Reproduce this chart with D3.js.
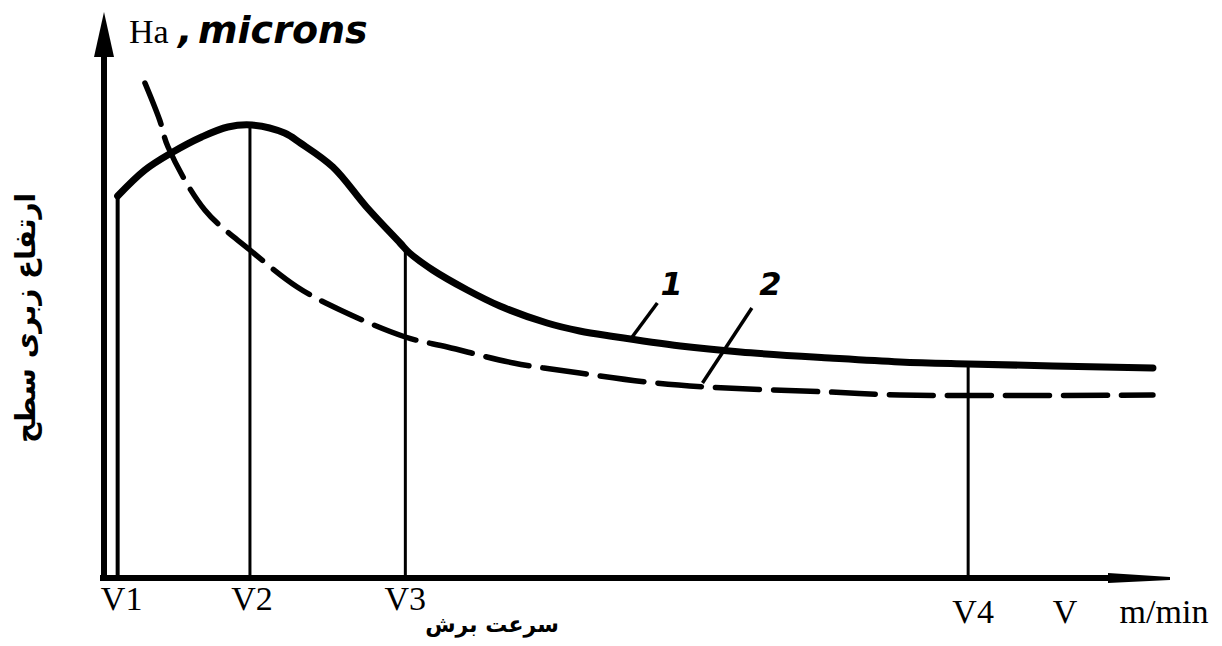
<!DOCTYPE html>
<html><head><meta charset="utf-8">
<script src="https://cdn.jsdelivr.net/npm/d3@7"></script>
<style>html,body{margin:0;padding:0;background:#fff;}svg{display:block;}</style>
</head><body><svg id="c" width="1222" height="646"></svg>
<script>
// Data (arbitrary units: V speed 0..100, Ha roughness 0..100)
const tickLabels = ["V1", "V2", "V3", "V4"];
const tickValues = [1.3, 13.9, 28.7, 82.3];
const curve1V = [1.3, 3.9, 6.4, 9.3, 11.8, 14.1, 17.2, 18.7, 21.8, 25.0, 28.2, 29.1, 31.3, 34.6, 37.7, 42.2, 45.3, 48.5, 54.9, 60.6, 69.1, 75.8, 82.3, 99.9];
const curve1H = [76.4, 81.6, 85.0, 88.2, 90.2, 90.6, 89.0, 87.0, 82.2, 74.2, 67.0, 65.0, 61.6, 57.6, 54.4, 51.0, 49.4, 48.3, 46.4, 45.2, 44.0, 43.2, 42.8, 42.0];
const curve2V = [3.9, 5.3, 6.1, 9.6, 13.9, 18.4, 22.5, 28.7, 32.7, 39.0, 45.3, 51.7, 57.4, 69.1, 75.8, 99.9];
const curve2H = [99.0, 91.6, 86.2, 73.6, 65.6, 58.2, 53.6, 48.2, 46.2, 43.0, 41.0, 39.2, 38.2, 37.2, 36.6, 36.6];
const curveNames = ["1", "2"];
const curveNameAt = [53.0, 62.4];

const svg = d3.select("#c");
const x = d3.scaleLinear().domain([0, 100]).range([104, 1154]);
const y = d3.scaleLinear().domain([0, 100]).range([578, 78]);
const ink = "#000";

// vertical reference lines up to curve 1
function interp(vs, hs, v) {
  for (let i = 0; i < vs.length - 1; i++) {
    if (v >= vs[i] && v <= vs[i + 1]) {
      const t = (v - vs[i]) / (vs[i + 1] - vs[i]);
      return hs[i] + t * (hs[i + 1] - hs[i]);
    }
  }
  return hs[hs.length - 1];
}
svg.append("g").selectAll("line").data(tickValues).join("line")
  .attr("x1", d => x(d)).attr("x2", d => x(d))
  .attr("y1", y(0)).attr("y2", d => y(interp(curve1V, curve1H, d)))
  .attr("stroke", ink).attr("stroke-width", (d, i) => i === 0 ? 4 : 3);

// curves
const line = d3.line().x(d => x(d[0])).y(d => y(d[1])).curve(d3.curveCatmullRom.alpha(0.5));
svg.append("path").datum(curve2V.map((v, i) => [v, curve2H[i]]))
  .attr("d", line).attr("fill", "none").attr("stroke", ink)
  .attr("stroke-width", 5.5).attr("stroke-dasharray", "44 14").attr("stroke-linecap", "round");
svg.append("path").datum(curve1V.map((v, i) => [v, curve1H[i]]))
  .attr("d", line).attr("fill", "none").attr("stroke", ink)
  .attr("stroke-width", 7).attr("stroke-linecap", "round").attr("stroke-linejoin", "round");

// axes
const xAxis = svg.append("g");
xAxis.append("line").attr("x1", 100).attr("x2", 1130).attr("y1", y(0)).attr("y2", y(0))
  .attr("stroke", ink).attr("stroke-width", 6);
xAxis.append("path").attr("d", `M1108,${y(0)-5} L1170,${y(0)-1} L1170,${y(0)+2} L1108,${y(0)+5} Z`).attr("fill", ink);
const yAxis = svg.append("g");
yAxis.append("line").attr("x1", 104).attr("x2", 104).attr("y1", y(0) + 3).attr("y2", 40)
  .attr("stroke", ink).attr("stroke-width", 6);
yAxis.append("path").attr("d", `M104,12 L114,57 L94,57 Z`).attr("fill", ink);

// tick labels
const tickG = svg.append("g").attr("font-family", "Liberation Serif, serif").attr("font-size", 34)
  .attr("text-anchor", "middle").attr("fill", ink);
tickG.selectAll("text").data(tickLabels).join("text")
  .attr("x", (d, i) => x(tickValues[i]) + [4, 2, 0, 5][i])
  .attr("y", (d, i) => i === 3 ? 623 : 610)
  .text(d => d);
tickG.append("text").attr("x", 1065).attr("y", 623).text("V");
tickG.append("text").attr("x", 1164).attr("y", 623).text("m/min");

// Y title
svg.append("text").attr("x", 129).attr("y", 43).attr("fill", ink)
  .attr("font-family", "Liberation Serif, serif").attr("font-size", 34).text("Ha");
svg.append("text").attr("x", 178).attr("y", 43).attr("fill", ink)
  .attr("font-family", "DejaVu Sans, sans-serif").attr("font-weight", "bold")
  .attr("font-style", "italic").attr("font-size", 38).text(",");
svg.append("text").attr("x", 198).attr("y", 43).attr("fill", ink)
  .attr("font-family", "DejaVu Sans, sans-serif").attr("font-weight", "bold")
  .attr("font-style", "italic").attr("font-size", 38).text("microns");

// Persian axis titles
svg.append("text").attr("transform", "translate(35,318) rotate(-90)")
  .attr("text-anchor", "middle").attr("font-family", "DejaVu Sans, sans-serif").attr("font-weight", "bold")
  .attr("font-size", 28).attr("fill", ink).text("ارتفاع زبری سطح");
svg.append("text").attr("x", 492).attr("y", 632)
  .attr("text-anchor", "middle").attr("font-family", "DejaVu Sans, sans-serif").attr("font-weight", "bold")
  .attr("font-size", 22).attr("fill", ink).text("سرعت برش");

// curve labels with leaders
const lab = svg.append("g");
const leaders = [[50.3, 48.2, 52.7, 55.0], [57.0, 39.0, 61.7, 54.0]];
lab.selectAll("line").data(leaders).join("line")
  .attr("x1", d => x(d[0])).attr("y1", d => y(d[1]))
  .attr("x2", d => x(d[2])).attr("y2", d => y(d[3]))
  .attr("stroke", ink).attr("stroke-width", 3.5);
lab.selectAll("text").data(curveNames).join("text")
  .attr("x", (d, i) => x(curveNameAt[i])).attr("y", 295)
  .attr("font-family", "DejaVu Sans, sans-serif").attr("font-weight", "bold").attr("font-style", "italic")
  .attr("font-size", 32).attr("fill", ink).text(d => d);
</script></body></html>
